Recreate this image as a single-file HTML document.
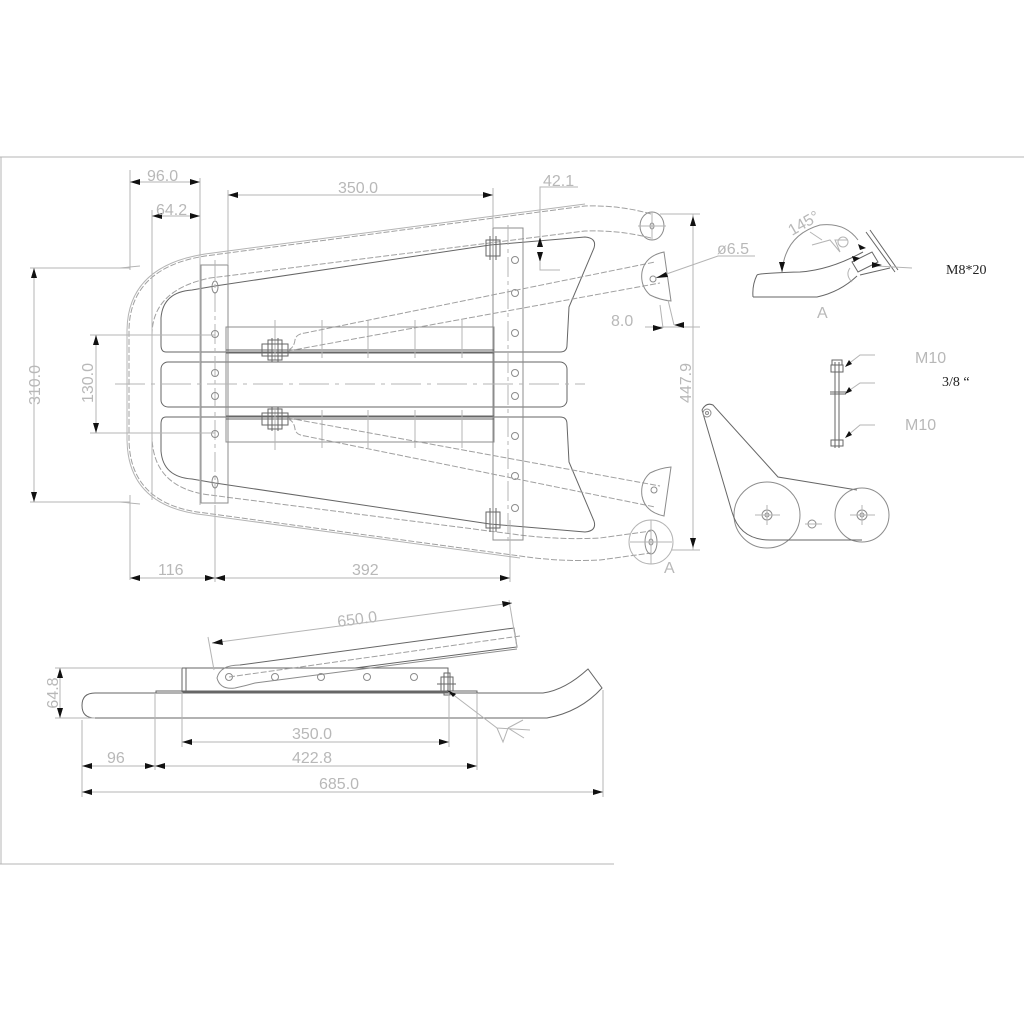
<!DOCTYPE html>
<html><head><meta charset="utf-8"><style>
html,body{margin:0;padding:0;background:#fff;}
svg{display:block;}
.d{stroke:#b4b4b4;stroke-width:1;fill:none;}
.f{stroke:#8c8c8c;stroke-width:1;fill:none;}
.k{stroke:#666;stroke-width:1;fill:none;}
.h{stroke:#a0a0a0;stroke-width:1;fill:none;stroke-dasharray:6 2;}
.t{font-family:"Liberation Sans",sans-serif;font-size:16px;fill:#b8b8b8;}
.s{font-family:"Liberation Serif",serif;font-size:14px;fill:#222;}
.a{fill:#111;}
</style></head><body>
<svg width="1024" height="1024" viewBox="0 0 1024 1024" xmlns="http://www.w3.org/2000/svg">
<path class="d" d="M0,157 H1024 M1,157 V864 M0,864 H614"/>

<path class="h" d="M651,214 Q620,205 585,206 L205,256 Q130,268 129,330 L129,440 Q130,505 205,513 L520,556 Q560,562 600,560 L651,553"/>
<path class="h" d="M651,238 Q620,230 585,231 L210,278 Q152,290 152,335 L152,435 Q152,488 210,495 L520,535 Q560,540 600,538 L651,531"/>
<path class="d" d="M585,204 L205,254 Q128,266 127,330 L127,440 Q128,507 205,515 L520,558"/>
<path class="k" d="M215,286 L490,245 L585,237 Q597,238 594,248 L569,307 L567,345 Q567,352 560,352 L166,352 Q161,352 161,345 L161,318 Q163,292 192,290 L215,286"/>
<path class="k" d="M215,483 L490,524 L585,532 Q597,531 594,521 L569,462 L567,424 Q567,417 560,417 L166,417 Q161,417 161,424 L161,451 Q163,477 192,479 L215,483"/>
<rect class="k" x="161" y="362" width="406" height="45" rx="7"/>
<rect class="f" x="201" y="265" width="27" height="238"/>
<rect class="f" x="493" y="228" width="30" height="312"/>
<rect class="f" x="226" y="327" width="268" height="115"/>
<path class="k" d="M226,350 H494 M226,353 H494 M226,416 H494 M226,419 H494"/>
<path class="d" d="M275,320 V360 M322,320 V358 M368,320 V358 M415,320 V358 M462,320 V358 M275,410 V450 M322,410 V448 M368,410 V448 M415,410 V448 M462,410 V448"/>
<path class="d" stroke-dasharray="30 6 4 6" d="M115,384 H585"/>
<path class="d" stroke-dasharray="20 4 4 4" d="M215,260 V510 M508,225 V545"/>
<g class="f">
<ellipse cx="215" cy="287" rx="3" ry="6"/><ellipse cx="215" cy="482" rx="3" ry="6"/>
<circle cx="215" cy="334" r="3.5"/><circle cx="215" cy="373" r="3.5"/><circle cx="215" cy="396" r="3.5"/><circle cx="215" cy="434" r="3.5"/>
<circle cx="515" cy="260" r="3.5"/><circle cx="515" cy="293" r="3.5"/><circle cx="515" cy="333" r="3.5"/><circle cx="515" cy="373" r="3.5"/><circle cx="515" cy="396" r="3.5"/><circle cx="515" cy="436" r="3.5"/><circle cx="515" cy="476" r="3.5"/><circle cx="515" cy="508" r="3.5"/>
</g>
<g class="k">
<rect x="262" y="344" width="26" height="12"/><rect x="268" y="340" width="14" height="20"/><path d="M272,338 V362 M278,338 V362"/>
<rect x="262" y="413" width="26" height="12"/><rect x="268" y="409" width="14" height="20"/><path d="M272,407 V431 M278,407 V431"/>
<rect x="486" y="240" width="14" height="16"/><path d="M490,236 V260 M496,236 V260"/>
<rect x="486" y="512" width="14" height="16"/><path d="M490,508 V532 M496,508 V532"/>
</g>
<path class="h" d="M288,350 Q294,348 295,340 Q296,334 305,333 L655,262"/>
<path class="h" d="M288,351 L660,283"/>
<path class="h" d="M288,419 Q294,421 295,429 Q296,435 305,436 L655,507"/>
<path class="h" d="M288,418 L660,486"/>
<ellipse class="f" cx="652" cy="226" rx="12" ry="14"/><ellipse class="f" cx="652" cy="226" rx="2" ry="3"/>
<path class="f" d="M664,252 L671,301 Q660,300 650,295 Q640,286 642,272 Q645,256 664,252 Z"/><circle class="f" cx="653" cy="279" r="3"/>
<path class="f" d="M664,516 L671,467 Q660,468 650,473 Q640,482 642,496 Q645,512 664,516 Z"/><circle class="f" cx="654" cy="490" r="3"/>
<circle class="d" cx="651" cy="542" r="22"/><ellipse class="f" cx="651" cy="542" rx="6" ry="12"/><ellipse class="f" cx="651" cy="542" rx="2" ry="3"/>
<path class="d" d="M638,226 H666 M652,212 V240 M630,542 H672 M651,520 V564"/>
<g class="d">
<path d="M130,170 V270 M130,495 V580 M200,178 V505 M152,210 V500 M228,190 V265 M493,188 V228 M215,505 V582 M510,520 V582"/>
<path d="M130,182 H200 M152,216 H200 M228,195 H493 M130,578 H510"/>
<path d="M578,187 H540 V237 M540,262 V270 H560"/>
<path d="M30,268 H130 M30,502 H130 M34,268 V502 M90,335 H215 M90,433 H215 M96,335 V433"/>
<path d="M660,214 H700 M672,550 H700 M693,214 V550"/>
<path d="M655,278 L718,256 H755"/>
<path d="M660,305 L663,328 M668,300 L674,325 M645,327 H700"/>
<path d="M120,268 L140,266 M120,502 L140,504"/>
</g>
<g class="a">
<path d="M130,182 l10,-3 v6z M200,182 l-10,-3 v6z M152,216 l10,-3 v6z M200,216 l-10,-3 v6z M228,195 l10,-3 v6z M493,195 l-10,-3 v6z"/>
<path d="M130,578 l10,-3 v6z M215,578 l-10,-3 v6z M215,578 l10,-3 v6z M510,578 l-10,-3 v6z"/>
<path d="M540,237 l-3,10 h6z M540,262 l-3,-10 h6z M34,268 l-3,10 h6z M34,502 l-3,-10 h6z M96,335 l-3,10 h6z M96,433 l-3,-10 h6z"/>
<path d="M693,216 l-3,10 h6z M693,548 l-3,-10 h6z M656,278 l10,-6 l2,5z M663,328 l-10,-3 v6z M674,325 l10,-3 v6z"/>
</g>
<text class="t" x="147" y="181">96.0</text>
<text class="t" x="156" y="215">64.2</text>
<text class="t" x="338" y="193">350.0</text>
<text class="t" x="543" y="186">42.1</text>
<text class="t" x="717" y="254">ø6.5</text>
<text class="t" x="611" y="326">8.0</text>
<text class="t" x="158" y="575">116</text>
<text class="t" x="352" y="575">392</text>
<text class="t" x="664" y="573">A</text>
<text class="t" transform="translate(40,385) rotate(-90)" text-anchor="middle">310.0</text>
<text class="t" transform="translate(93,383) rotate(-90)" text-anchor="middle">130.0</text>
<text class="t" transform="translate(691,383) rotate(-90)" text-anchor="middle">447.9</text>

<path class="k" d="M757,275 Q760,273 800,272 Q830,270 863,252 M753,297 L817,297 Q840,292 857,276 M753,297 Q752,285 757,275"/>
<path class="f" d="M782,272 Q785,235 820,225 Q845,222 858,240"/>
<path class="d" d="M812,245 L830,240 L840,252 L835,240 L848,240 M810,232 L822,240"/>
<circle class="d" cx="843" cy="242" r="5"/>
<path class="k" d="M866,232 L895,272 M870,230 L898,270 M852,262 L872,252 L878,262 L858,272 Z M860,275 L890,268"/>
<path class="d" d="M876,266 L912,268 M850,268 Q845,275 852,282"/>
<path class="a" d="M782,272 l-3,-10 l6,0z M866,248 l-8,-4 l2,6z M860,258 l-8,-2 l2,6z M882,265 l-10,-3 v6z"/>
<text class="t" transform="translate(792,236) rotate(-30)" font-size="15">145°</text>
<text class="s" x="946" y="274">M8*20</text>
<text class="t" x="817" y="318">A</text>

<g class="k">
<path d="M835,362 V448 M839,362 V448"/>
<rect x="831" y="365" width="12" height="7"/><rect x="832" y="360" width="10" height="5"/>
<path d="M830,392 H846 M830,394 H846"/>
<rect x="831" y="440" width="12" height="6"/>
</g>
<path class="d" d="M847,365 L860,355 H875 M847,392 L860,383 H875 M847,436 L860,425 H875"/>
<path class="a" d="M845,367 l4,-7 l3,4z M845,394 l4,-7 l3,4z M845,438 l4,-7 l3,4z"/>
<text class="t" x="915" y="363">M10</text>
<text class="s" x="942" y="386">3/8 “</text>
<text class="t" x="905" y="430">M10</text>

<path class="k" d="M702,410 Q706,402 713,405 L778,477 L857,490 M702,410 L732,512"/>
<circle class="f" cx="707" cy="413" r="4"/><circle class="f" cx="707" cy="413" r="1.5"/>
<circle class="f" cx="767" cy="515" r="33"/>
<circle class="f" cx="862" cy="515" r="27"/>
<path class="k" d="M732,512 Q740,540 770,540 L862,540"/>
<circle class="f" cx="767" cy="515" r="5"/><circle class="f" cx="767" cy="515" r="2"/>
<circle class="f" cx="862" cy="515" r="5"/><circle class="f" cx="862" cy="515" r="2"/>
<circle class="f" cx="812" cy="524" r="4"/>
<path class="d" d="M755,515 H780 M767,505 V525 M850,515 H875 M862,505 V525 M805,524 H822"/>

<path class="k" d="M95,693 L543,693 Q565,690 588,669 L602,688 Q580,712 547,718 L95,718 Q82,718 82,705.5 Q82,693 95,693"/>
<path class="k" d="M156,693 V691 H477 V693"/>
<rect class="k" x="182" y="668" width="266" height="24"/>
<path class="k" d="M186,668 V692"/>
<g class="f"><circle cx="229" cy="677" r="3.5"/><circle cx="275" cy="677" r="3.5"/><circle cx="321" cy="677" r="3.5"/><circle cx="367" cy="677" r="3.5"/><circle cx="414" cy="677" r="3.5"/></g>
<path class="k" d="M240,665 L514,628 L517,647 L355,668"/>
<path class="f" d="M240,665 Q220,665 217,678 Q220,690 235,688 Q245,686 255,683 L517,649"/>
<path class="h" d="M229,677 L520,636"/>
<g class="k"><rect x="441" y="677" width="12" height="14"/><rect x="444" y="673" width="6" height="22"/><path d="M437,684 H456"/></g>
<path class="d" d="M447,690 L497,728 L530,730 M497,728 L503,742 L508,728 M508,728 L524,738 M508,728 L523,720"/>
<path class="a" d="M447,690 l9,4 l-3,3z"/>
<g class="d">
<path d="M212,643 L512,603 M208,637 L214,670 M509,600 L517,648"/>
<path d="M55,668 H182 M55,718 H95 M60,668 V718"/>
<path d="M182,692 V747 M449,692 V747 M182,742 H449"/>
<path d="M82,720 V797 M155,693 V770 M477,693 V770 M603,690 V797"/>
<path d="M82,766 H477 M82,792 H603"/>
</g>
<g class="a">
<path d="M212,643 l10,-4 l1,6z M512,603 l-10,-2 l1,6z"/>
<path d="M60,668 l-3,10 h6z M60,718 l-3,-10 h6z"/>
<path d="M182,742 l10,-3 v6z M449,742 l-10,-3 v6z"/>
<path d="M82,766 l10,-3 v6z M155,766 l-10,-3 v6z M155,766 l10,-3 v6z M477,766 l-10,-3 v6z"/>
<path d="M82,792 l10,-3 v6z M603,792 l-10,-3 v6z"/>
</g>
<text class="t" transform="translate(338,627) rotate(-7.6)">650.0</text>
<text class="t" transform="translate(58,693) rotate(-90)" text-anchor="middle">64.8</text>
<text class="t" x="292" y="739">350.0</text>
<text class="t" x="107" y="763">96</text>
<text class="t" x="292" y="763">422.8</text>
<text class="t" x="319" y="789">685.0</text>
</svg>
</body></html>
